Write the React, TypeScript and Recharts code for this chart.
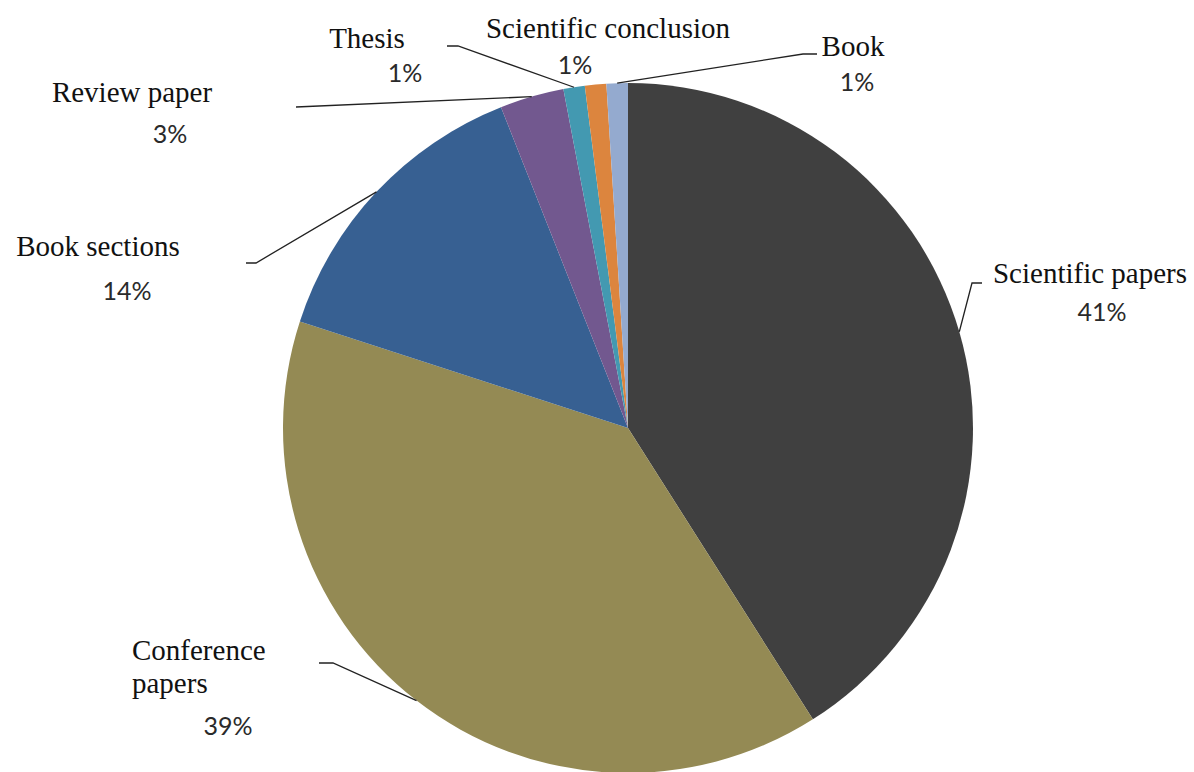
import { Cell, Pie, PieChart } from "recharts";

const categories = [
  "Scientific papers",
  "Conference papers",
  "Book sections",
  "Review paper",
  "Thesis",
  "Scientific conclusion",
  "Book",
];
const shares = [41, 39, 14, 3, 1, 1, 1];
const sliceColors = ["#404040", "#948A54", "#376092", "#72588F", "#4399B1", "#DC853E", "#94AACF"];

const data = categories.map((name, i) => ({ name, value: shares[i] }));

const CX = 628;
const CY = 428;
const RADIUS = 345;
const RADIAN = Math.PI / 180;

// label placement, as offsets from the pie centre
type LabelSpot = {
  lines: string[];
  anchor: "start" | "middle";
  name: [number, number];
  pct: [number, number];
  leader: [number, number][];
};

const labelSpots: LabelSpot[] = [
  { lines: ["Scientific papers"], anchor: "middle", name: [462, -145], pct: [474, -107], leader: [[344, -145], [354, -145]] },
  { lines: ["Conference", "papers"], anchor: "start", name: [-496, 232], pct: [-400, 307], leader: [[-295, 235], [-309, 235]] },
  { lines: ["Book sections"], anchor: "middle", name: [-530, -172], pct: [-501, -128], leader: [[-372, -165], [-382, -165]] },
  { lines: ["Review paper"], anchor: "middle", name: [-496, -326], pct: [-458, -285], leader: [[-332, -321]] },
  { lines: ["Thesis"], anchor: "middle", name: [-261, -380], pct: [-223, -346], leader: [[-170, -382], [-181, -382]] },
  { lines: ["Scientific conclusion"], anchor: "middle", name: [-20, -390], pct: [-53, -354], leader: [] },
  { lines: ["Book"], anchor: "middle", name: [225, -372], pct: [229, -337], leader: [[175, -374], [189, -374]] },
];

const nameStyle = { fontFamily: "Liberation Serif", fontSize: 29 };
const pctStyle = { fontFamily: "Lato", fontSize: 25 };

function renderLabel(props: any) {
  const { cx, cy, midAngle, outerRadius, index, percent } = props;
  const spot = labelSpots[index];
  if (!spot) return null;
  const sx = cx + outerRadius * Math.cos(-midAngle * RADIAN);
  const sy = cy + outerRadius * Math.sin(-midAngle * RADIAN);
  const points = [[sx, sy], ...spot.leader.map(([dx, dy]) => [cx + dx, cy + dy])];
  return (
    <g>
      {spot.leader.length > 0 ? (
        <polyline
          points={points.map((p) => p.join(",")).join(" ")}
          fill="none"
          stroke="#222"
          strokeWidth={1.3}
        />
      ) : null}
      {spot.lines.map((line, i) => (
        <text
          key={line}
          x={cx + spot.name[0]}
          y={cy + spot.name[1] + i * 33}
          textAnchor={spot.anchor}
          style={nameStyle}
          fill="#111"
        >
          {line}
        </text>
      ))}
      <text
        x={cx + spot.pct[0]}
        y={cy + spot.pct[1]}
        textAnchor="middle"
        style={pctStyle}
        fill="#2a2a2a"
      >
        {`${Math.round(percent * 100)}%`}
      </text>
    </g>
  );
}

export default function App() {
  return (
    <div style={{ width: 1194, height: 772, overflow: "hidden", background: "#fff" }}>
      <style>{`body { margin: 0; }`}</style>
      <PieChart width={1194} height={772} margin={{ top: 0, right: 0, bottom: 0, left: 0 }}>
        <Pie
          data={data}
          dataKey="value"
          nameKey="name"
          cx={CX}
          cy={CY}
          outerRadius={RADIUS}
          startAngle={90}
          endAngle={-270}
          stroke="none"
          label={renderLabel}
          labelLine={false}
          isAnimationActive={false}
        >
          {data.map((entry, i) => (
            <Cell key={entry.name} fill={sliceColors[i]} />
          ))}
        </Pie>
      </PieChart>
    </div>
  );
}
